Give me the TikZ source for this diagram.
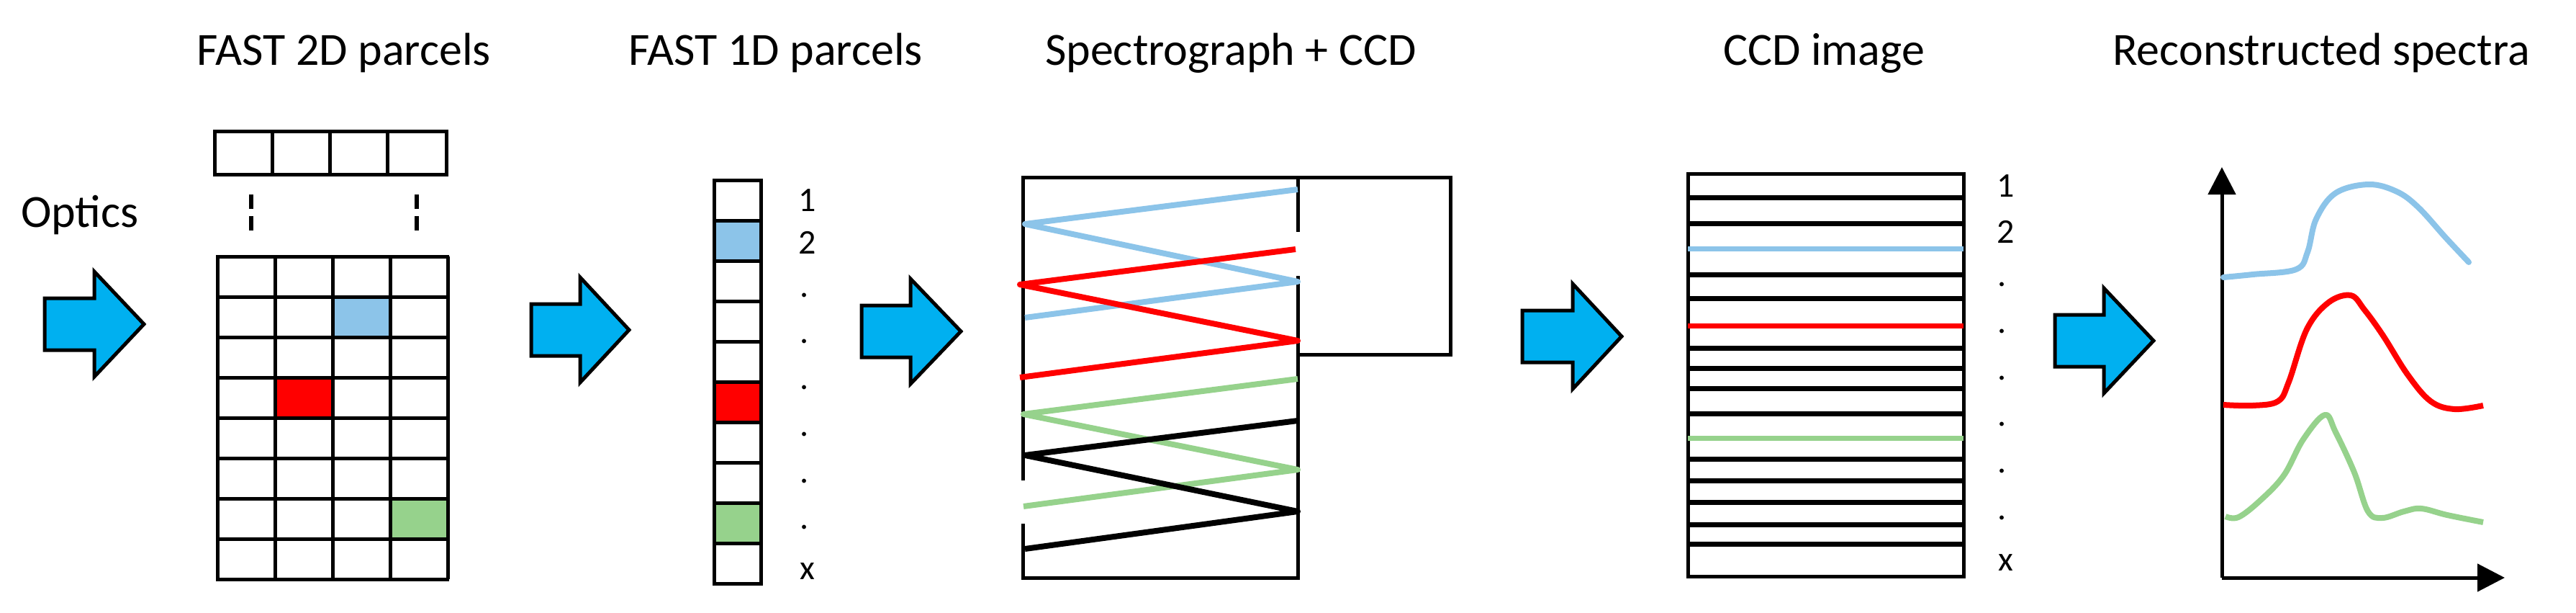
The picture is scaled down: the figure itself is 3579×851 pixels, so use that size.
\documentclass[tikz,border=0pt]{standalone}
\usepackage{fontspec}
\setmainfont{Carlito}
\usetikzlibrary{arrows.meta}
\begin{document}
\begin{tikzpicture}[x=1pt,y=-1pt,
  title/.style={anchor=base,font=\fontsize{64}{70}\selectfont,inner sep=0},
  lab/.style={anchor=center,font=\fontsize{48}{52}\selectfont,inner sep=0},
  frame/.style={line width=5pt},
  bluearrow/.style={fill={rgb,255:red,0;green,176;blue,240},draw=black,line width=5pt,line join=miter},
  sp/.style={line width=8pt,line join=round},
  lblue/.style={color={rgb,255:red,140;green,196;blue,233}},
  lgreen/.style={color={rgb,255:red,150;green,210;blue,140}}]
\useasboundingbox (0,0) rectangle (3579,851);
% titles
\node[title] (t1) at (478,90) {FAST 2D parcels};
\node[title] (t2) at (1078,90) {FAST 1D parcels};
\node[title] (t3) at (1710,90) {Spectrograph + CCD};
\node[title] (t4) at (2534,90) {CCD image};
\node[title,anchor=base west] (t5) at (2935,90) {Reconstructed spectra};
\node[anchor=base west,font=\fontsize{64}{70}\selectfont,inner sep=0] (opt) at (29,315) {Optics};
% arrows: L, B, T, C
\newcommand\bluearr[4]{\draw[bluearrow] (#1,#4-36)--(#2,#4-36)--(#2,#4-73)--(#3,#4)--(#2,#4+73)--(#2,#4+36)--(#1,#4+36)--cycle;}
\bluearr{62}{131}{200}{450}
\bluearr{738}{806}{874}{458}
\bluearr{1197}{1265}{1335}{460}
\bluearr{2115}{2185}{2253}{467}
\bluearr{2855}{2923}{2992}{473}
% 2D grid
\fill[lblue] (462,412) rectangle (542,468);
\fill[red] (382,524) rectangle (462,580);
\fill[lgreen] (542,692) rectangle (622,748);
\foreach \i in {0,...,8} \draw[frame] (300,356+56*\i)--(624,356+56*\i);
\foreach \x in {302,382,462,542,622} \draw[frame] (\x,356)--(\x,804);
\draw[frame] (298,182) rectangle (620,242);
\foreach \x in {378,458,538} \draw[frame] (\x,182)--(\x,242);
\draw[line width=6pt] (349,270)--(349,290) (349,300)--(349,320);
\draw[line width=6pt] (579,270)--(579,290) (579,300)--(579,320);
% 1D column
\fill[lblue] (992,306) rectangle (1057,362);
\fill[red] (992,530) rectangle (1057,586);
\fill[lgreen] (992,698) rectangle (1057,754);
\foreach \i in {0,...,9} \draw[frame] (992,250+56*\i) rectangle (1057,306+56*\i);
\node[lab] at (1122,278) {1};
\node[lab] at (1122,337) {2};
\foreach \y in {410,474,538,603,668,732} \node[lab] at (1118,\y) {.};
\node[lab] at (1122,793) {x};
% spectrograph
\draw[frame] (1421,667)--(1421,246)--(1803,246)--(1803,322);
\draw[frame] (1803,246)--(2015,246)--(2015,492)--(1803,492);
\draw[frame] (1421,727)--(1421,802)--(1803,802)--(1803,383);
\draw[sp,lblue] (1803,263)--(1424,311)--(1803,391)--(1424,441);
\draw[sp,red] (1800,346)--(1417,395)--(1803,473)--(1417,524);
\draw[sp,lgreen] (1803,526)--(1422,575)--(1803,652)--(1422,703);
\draw[sp,black] (1803,584)--(1424,632)--(1803,710)--(1424,762);
% CCD image
\draw[frame] (2345,241) rectangle (2728,800);
\foreach \y in {274,310,381,414,483,511,539,574,637,667,697,728,755} \draw[line width=7pt] (2345,\y)--(2728,\y);
\draw[line width=7pt,lblue] (2345,345)--(2728,345);
\draw[line width=7pt,red] (2345,452)--(2728,452);
\draw[line width=7pt,lgreen] (2345,608)--(2728,608);
\node[lab] at (2787,258) {1};
\node[lab] at (2787,322) {2};
\foreach \y in {395,460,525,589,654,719} \node[lab] at (2782,\y) {.};
\node[lab] at (2787,781) {x};
% plot
\coordinate (o) at (3087,802);
\coordinate (ytop) at (3087,232);
\coordinate (xend) at (3480,802);
\draw[line width=5pt,-{Triangle[length=38pt,width=38pt]}] (o)--(ytop);
\draw[line width=5pt,-{Triangle[length=38pt,width=38pt]}] (o)--(xend);
\draw[sp,lblue,line cap=round] plot[smooth,tension=0.6] coordinates {(3089,385) (3130,381) (3190,374) (3206,350) (3218,304) (3245,268) (3291,256) (3330,266) (3360,288) (3398,330) (3430,364)};
\draw[sp,red] plot[smooth,tension=0.6] coordinates {(3089,562) (3130,563) (3165,557) (3180,530) (3205,457) (3235,420) (3266,410) (3285,430) (3311,466) (3345,520) (3377,557) (3410,568) (3450,563)};
\draw[sp,lgreen] plot[smooth,tension=0.6] coordinates {(3092,717) (3110,718) (3140,695) (3173,660) (3200,610) (3230,576) (3245,600) (3271,656) (3290,710) (3310,719) (3340,710) (3364,706) (3400,715) (3450,725)};
\end{tikzpicture}
\end{document}
